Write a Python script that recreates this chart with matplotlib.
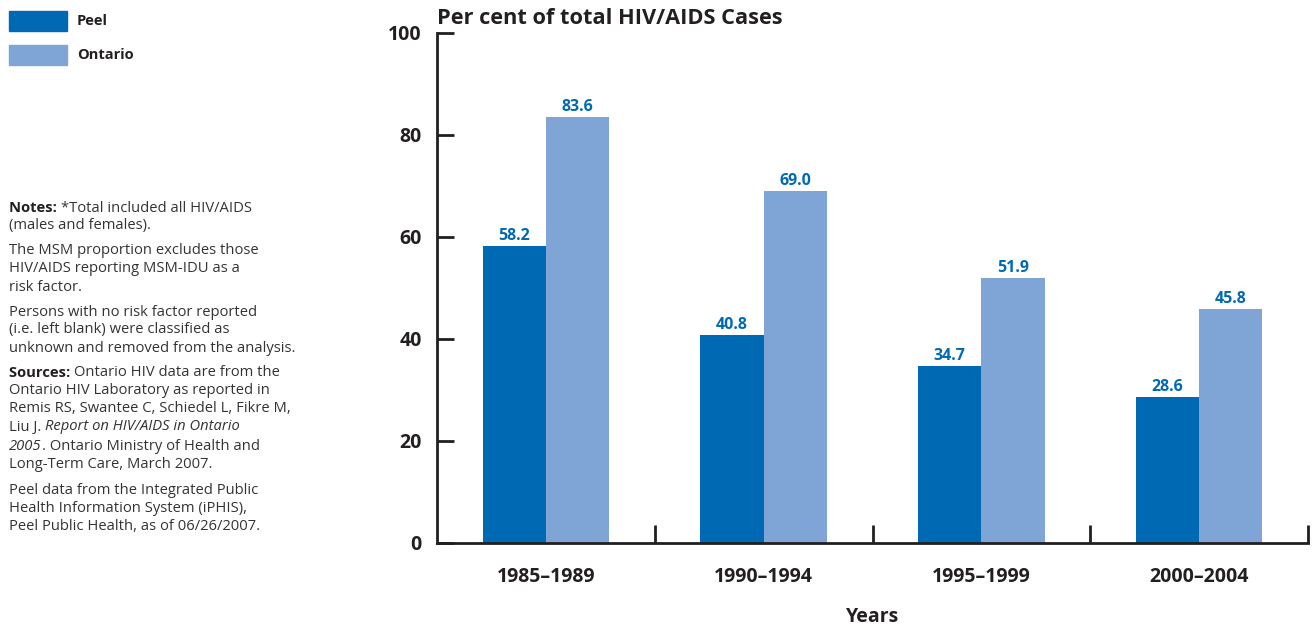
import numpy as np
import matplotlib
matplotlib.use("Agg")
import matplotlib.pyplot as plt
from matplotlib.patches import Rectangle

plt.rcParams['font.family'] = ['Open Sans', 'DejaVu Sans']

# data
periods = ['1985\u20131989', '1990\u20131994', '1995\u20131999', '2000\u20132004']
peel = [58.2, 40.8, 34.7, 28.6]
ontario = [83.6, 69.0, 51.9, 45.8]
series_names = ['Peel', 'Ontario']
yticks = [0, 20, 40, 60, 80, 100]

peel_col = '#0069b4'
ont_col = '#7fa5d7'
label_col = '#0069b4'
dark = '#231f20'

fig = plt.figure(figsize=(13.13, 6.25), dpi=100)
ax = fig.add_axes([437/1313, 82/625, 871/1313, 510/625])

x = np.arange(len(periods))
w = 0.29
b1 = ax.bar(x - w/2, peel, w, color=peel_col)
b2 = ax.bar(x + w/2, ontario, w, color=ont_col)

for bars, vals in ((b1, peel), (b2, ontario)):
    for r, v in zip(bars, vals):
        ax.annotate('%.1f' % v, (r.get_x() + r.get_width()/2, v), xytext=(0, 1.5),
                    textcoords='offset points', ha='center', va='bottom',
                    color=label_col, fontsize=11.5, fontweight='bold')

ax.set_xlim(-0.5, 3.5)
ax.set_ylim(0, 100)
ax.set_yticks(yticks)
ax.set_yticklabels([str(t) for t in yticks], fontsize=14, fontweight='bold', color=dark)
ax.set_xticks(x)
ax.set_xticklabels(periods, fontsize=14, fontweight='bold', color=dark)
ax.tick_params(axis='x', which='major', length=0, pad=17)
ax.set_xticks(list(x[:-1] + 0.5) + [3.5], minor=True)
ax.tick_params(axis='x', which='minor', direction='in', length=13, width=2, color=dark)
ax.tick_params(axis='y', direction='in', length=12, width=2, color=dark, pad=11)
for s in ['top', 'right']:
    ax.spines[s].set_visible(False)
for s in ['left', 'bottom']:
    ax.spines[s].set_linewidth(2)
    ax.spines[s].set_color(dark)

ax.set_xlabel('Years', fontsize=14, fontweight='bold', color=dark, labelpad=15)
fig.text(437/1313, 1 - 18/625, 'Per cent of total HIV/AIDS Cases', fontsize=15.7,
         fontweight='bold', color=dark, va='center', ha='left')

# legend
for i, (name, col) in enumerate(zip(series_names, [peel_col, ont_col])):
    y0 = 11 + 34*i
    fig.add_artist(Rectangle((9/1313, 1 - (y0 + 20)/625), 58/1313, 20/625,
                             transform=fig.transFigure, color=col))
    fig.text(77/1313, 1 - (y0 + 10)/625, name, fontsize=10.5, fontweight='bold',
             color=dark, va='center')

# notes, each line is a list of (text, style)
notes = [
    (208, [('Notes: ', 'bold'), ('*Total included all HIV/AIDS', 'normal')]),
    (226, [('(males and females).', 'normal')]),
    (251, [('The MSM proportion excludes those', 'normal')]),
    (269, [('HIV/AIDS reporting MSM-IDU as a', 'normal')]),
    (287, [('risk factor.', 'normal')]),
    (312, [('Persons with no risk factor reported', 'normal')]),
    (330, [('(i.e. left blank) were classified as', 'normal')]),
    (349, [('unknown and removed from the analysis.', 'normal')]),
    (373, [('Sources: ', 'bold'), ('Ontario HIV data are from the', 'normal')]),
    (391, [('Ontario HIV Laboratory as reported in', 'normal')]),
    (409, [('Remis RS, Swantee C, Schiedel L, Fikre M,', 'normal')]),
    (427, [('Liu J. ', 'normal'), ('Report on HIV/AIDS in Ontario', 'italic')]),
    (446, [('2005', 'italic'), ('. Ontario Ministry of Health and', 'normal')]),
    (465, [('Long-Term Care, March 2007.', 'normal')]),
    (490, [('Peel data from the Integrated Public', 'normal')]),
    (508, [('Health Information System (iPHIS),', 'normal')]),
    (527, [('Peel Public Health, as of 06/26/2007.', 'normal')]),
]
note_col = '#333333'
for ypix, parts in notes:
    last = None
    for txt, style in parts:
        kw = dict(fontsize=10.6, color=note_col, va='center', ha='left')
        if style == 'bold':
            kw['fontweight'] = 'bold'
            kw['color'] = dark
        if style == 'italic':
            kw['fontstyle'] = 'italic'
        if last is None:
            last = fig.text(9/1313, 1 - ypix/625, txt, **kw)
        else:
            last = ax.annotate(txt, xy=(1, 0.5), xycoords=last, xytext=(0, 0),
                               textcoords='offset points', annotation_clip=False, **kw)

fig.savefig('out.png', dpi=100)
